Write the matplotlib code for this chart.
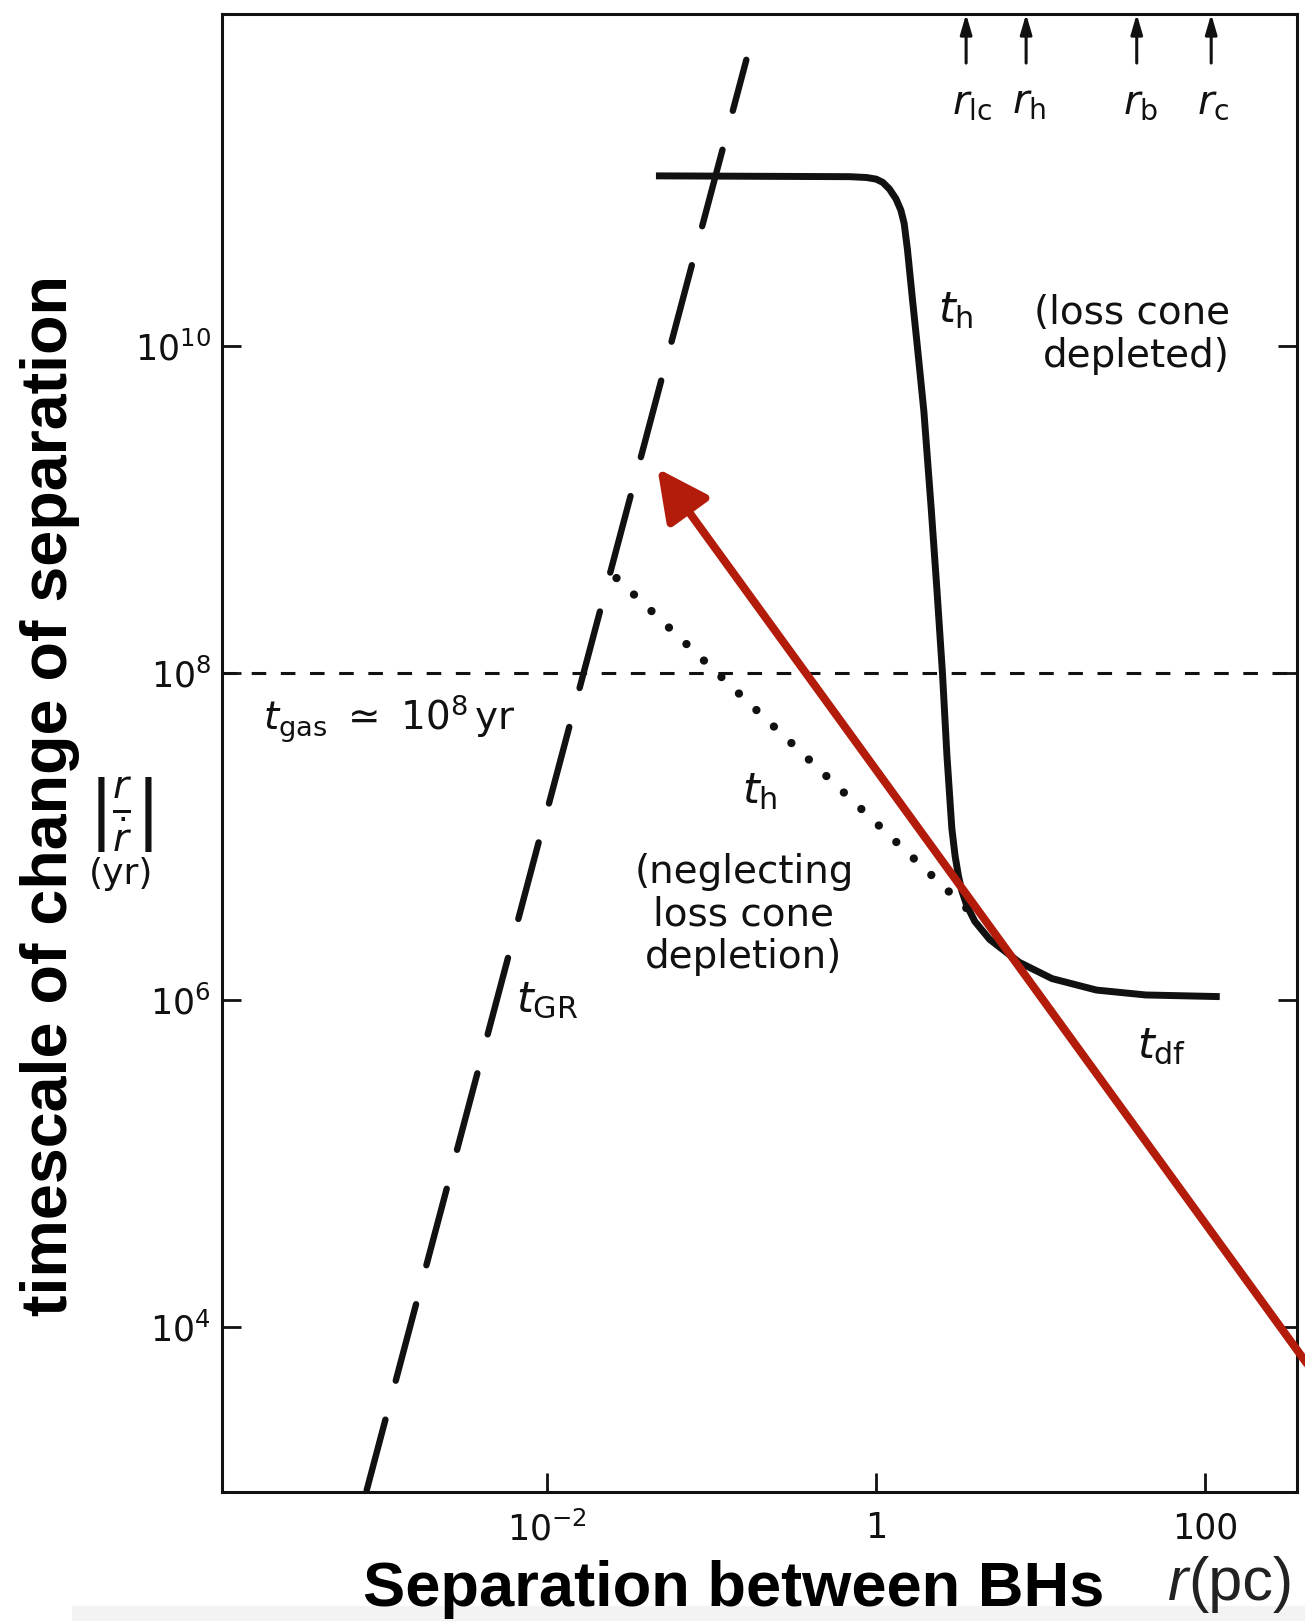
import numpy as np
import matplotlib
matplotlib.use('Agg')
import matplotlib.pyplot as plt
from matplotlib.patches import Rectangle
from matplotlib.ticker import NullLocator

plt.rcParams['font.family'] = ['DejaVu Sans']
plt.rcParams['mathtext.fontset'] = 'dejavusans'
plt.rcParams['lines.scale_dashes'] = False

# ---------------- data (log10 values) ----------------
# gravitational-radiation timescale t_GR (dashed), drawn from top to bottom
gr_log_r = [-0.79, -3.10]
gr_log_t = [11.75, 3.00]

# hardening timescale with loss cone depleted, joining t_df (solid)
th_log_r = [-1.34, -0.16, -0.06, 0.00, 0.04, 0.08, 0.12, 0.15, 0.17, 0.19, 0.22, 0.25, 0.29,
            0.335, 0.37, 0.403, 0.43, 0.46, 0.48, 0.50, 0.52, 0.55, 0.60, 0.69,
            0.87, 1.07, 1.34, 1.64, 2.09]
th_log_t = [11.04, 11.035, 11.03, 11.02, 11.00, 10.96, 10.90, 10.83, 10.75, 10.59, 10.29, 10.00, 9.60,
            9.00, 8.50, 8.00, 7.50, 7.05, 6.88, 6.76, 6.67, 6.58, 6.48, 6.37,
            6.23, 6.13, 6.06, 6.03, 6.02]

# hardening timescale neglecting loss-cone depletion (dotted)
thn_log_r = [-1.58, 0.55]
thn_log_t = [8.58, 6.56]

# gas timescale
t_gas = 1e8

# characteristic radii (arrows on top)
radii_labels = [r'$r_{\mathrm{lc}}$', r'$r_{\mathrm{h}}$', r'$r_{\mathrm{b}}$', r'$r_{\mathrm{c}}$']
radii_log_r = [0.547, 0.912, 1.585, 2.038]

# red overlay arrow (tail -> head)
red_tail = (2.62, 3.776)
red_head = (-1.331, 9.25)

xticks = [1e-2, 1, 100]
xticklabels = [r'$10^{-2}$', '1', '100']
yticks = [1e4, 1e6, 1e8, 1e10]
yticklabels = [r'$10^{4}$', r'$10^{6}$', r'$10^{8}$', r'$10^{10}$']

# ---------------- figure ----------------
W, H = 1305, 1621
fig = plt.figure(figsize=(W / 100, H / 100), dpi=100)
fig.patches.append(Rectangle((72 / W, 0), 1 - 72 / W, 15 / H, transform=fig.transFigure,
                             facecolor='#f3f3f3', edgecolor='none', zorder=0))

left, right, bottom, top = 222 / W, 1297 / W, 1 - 1492 / H, 1 - 14 / H
ax = fig.add_axes([left, bottom, right - left, top - bottom])
ax.set_xscale('log')
ax.set_yscale('log')
ax.set_xlim(10 ** -3.98, 10 ** 2.56)
ax.set_ylim(10 ** 2.99, 10 ** 12.03)

for s in ax.spines.values():
    s.set_linewidth(2.2)
    s.set_color('#111111')

ax.set_xticks(xticks)
ax.set_xticklabels(xticklabels)
ax.set_yticks(yticks)
ax.set_yticklabels(yticklabels)
ax.xaxis.set_minor_locator(NullLocator())
ax.yaxis.set_minor_locator(NullLocator())
ax.tick_params(axis='both', which='major', direction='in', length=14, width=2,
               labelsize=25, colors='#111111')
ax.tick_params(axis='y', right=True, pad=8)
ax.tick_params(axis='x', pad=14)

def P(lr, lt):
    return 10 ** np.asarray(lr, float), 10 ** np.asarray(lt, float)

# gas line
ax.axhline(t_gas, color='#111111', lw=2.2, ls=(0, (10.5, 10.5)), zorder=2)

# t_GR dashed
x, y = P(gr_log_r, gr_log_t)
ax.plot(x, y, color='#111111', lw=4.6, ls=(19, (57, 29)), dash_capstyle='round', zorder=3)

# t_h loss cone depleted + t_df
x, y = P(th_log_r, th_log_t)
ax.plot(x, y, color='#111111', lw=5, solid_joinstyle='round', solid_capstyle='butt', zorder=3)

# dotted t_h neglecting loss cone
x, y = P(thn_log_r, thn_log_t)
ax.plot(x, y, color='#111111', lw=6, ls=(0, (0.01, 17.3)), dash_capstyle='round', zorder=3)

# radii arrows
for lab, lr in zip(radii_labels, radii_log_r):
    ax.annotate('', xy=(10 ** lr, 10 ** 12.03), xytext=(10 ** lr, 10 ** 11.73),
                arrowprops=dict(arrowstyle='-|>,head_length=12,head_width=3.5', mutation_scale=1,
                                lw=2.2, color='#111111', shrinkA=0, shrinkB=0),
                annotation_clip=False)
    ax.text(10 ** (lr - 0.085), 10 ** 11.49, lab, fontsize=29, ha='left', va='center', color='#111111')

# text labels
txt = dict(color='#111111', fontsize=28)
tl = dict(color='#111111', fontsize=31)
ax.text(10 ** 0.377, 10 ** 10.22, r'$t_{\mathrm{h}}$', ha='left', va='center', **tl)
ax.text(10 ** 2.151, 10 ** 10.07, '(loss cone\ndepleted)', ha='right', va='center',
        multialignment='right', linespacing=1.15, **txt)
ax.text(10 ** -0.711, 10 ** 7.278, r'$t_{\mathrm{h}}$', ha='center', va='center', **tl)
ax.text(10 ** -0.805, 10 ** 6.52, '(neglecting\nloss cone\ndepletion)', ha='center', va='center',
        multialignment='center', linespacing=1.15, **txt)
ax.text(10 ** -2.19, 10 ** 6.0, r'$t_{\mathrm{GR}}$', ha='left', va='center', **tl)
ax.text(10 ** 1.585, 10 ** 5.72, r'$t_{\mathrm{df}}$', ha='left', va='center', **tl)
ax.text(10 ** -3.73, 10 ** 7.72, r'$t_{\mathrm{gas}}\ \simeq\ 10^{8}\,\mathrm{yr}$', ha='left', va='center', **txt)

# red arrow overlay
ax.annotate('', xy=(10 ** red_head[0], 10 ** red_head[1]), xytext=(10 ** red_tail[0], 10 ** red_tail[1]),
            arrowprops=dict(arrowstyle='-|>,head_length=31,head_width=15.5', mutation_scale=1,
                            lw=5.8, color='#B31B0B', shrinkA=0, shrinkB=0),
            annotation_clip=False, zorder=6)

# inner y label |r / r_dot| (yr)
fig.text(121 / W, 1 - 815 / H, r'$\left|\frac{r}{\dot{r}}\right|$', fontsize=40,
         ha='center', va='center', color='#111111')
fig.text(121 / W, 1 - 874 / H, '(yr)', fontsize=26, ha='center', va='center', color='#111111')

# big bold labels
fig.text(67 / W, 1 - 796 / H, 'timescale of change of separation', rotation=90,
         rotation_mode='anchor', ha='center', va='baseline', fontsize=46.5,
         fontweight='bold', family='Liberation Sans', color='black')
fig.text(734 / W, 1 - 1606 / H, 'Separation between BHs', ha='center', va='baseline',
         fontsize=45.5, fontweight='bold', family='Liberation Sans', color='black')
fig.text(1168 / W, 1 - 1600 / H, 'r', ha='left', va='baseline', fontsize=44,
         style='italic', family='Liberation Sans', color='#222222')
fig.text(1188 / W, 1 - 1600 / H, '(pc)', ha='left', va='baseline', fontsize=44,
         family='Liberation Sans', color='#222222')

fig.savefig('out.png', dpi=100)
